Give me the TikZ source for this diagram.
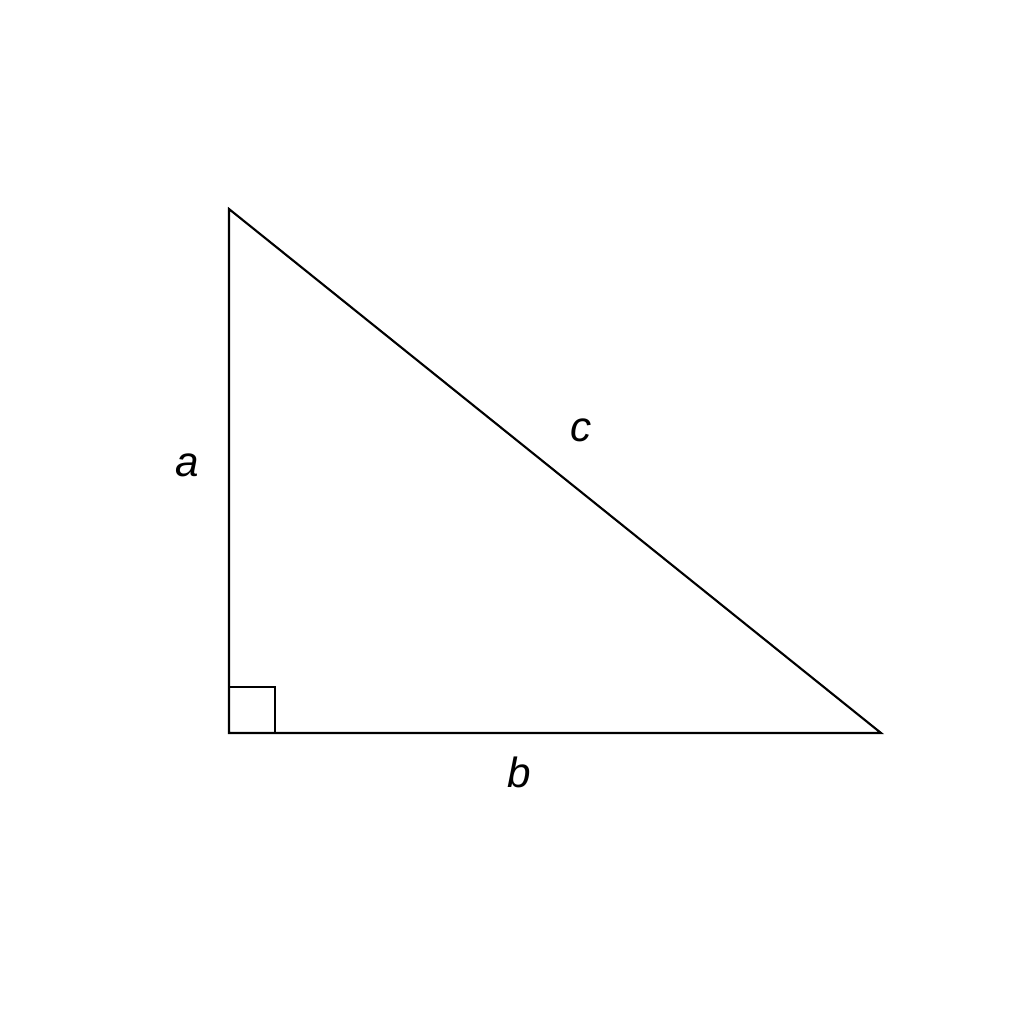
\documentclass[tikz,border=0pt]{standalone}
\usepackage{fontspec}
\setmainfont{Liberation Sans}
\begin{document}
\begin{tikzpicture}[x=0.01cm,y=-0.01cm,
  edge/.style={draw=black,line width=0.6pt,line join=miter},
  lbl/.style={font=\fontsize{12}{14}\selectfont\itshape,inner sep=0pt}]
\useasboundingbox (0,0) rectangle (1024,1024);
\fill[white] (0,0) rectangle (1024,1024);
\coordinate (A) at (229,209);
\coordinate (C) at (229,733);
\coordinate (B) at (881,733);
\draw[edge] (A) -- (C) -- (B) -- cycle;
\coordinate (r1) at (229,687);
\coordinate (r2) at (275,687);
\coordinate (r3) at (275,733);
\draw[edge] (r1) -- (r2) -- (r3);
\node[lbl] (la) at (187,465) {a};
\node[lbl] (lb) at (519,772) {b};
\node[lbl] (lc) at (581,430) {c};
\end{tikzpicture}
\end{document}
